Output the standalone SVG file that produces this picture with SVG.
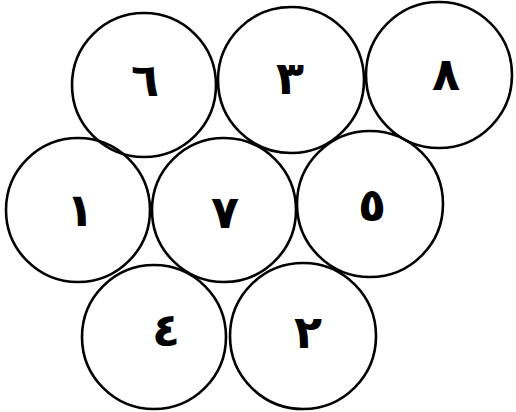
<svg xmlns="http://www.w3.org/2000/svg" width="516" height="412" viewBox="0 0 516 412">
<style>
.c{fill:none;stroke:#000;stroke-width:2.6}
.t{font-family:"DejaVu Sans","Noto Sans",sans-serif;font-size:46px;font-weight:bold;text-anchor:middle;dominant-baseline:central;fill:#000}
</style>
<rect width="516" height="412" fill="#fff"/>
<g id="n6"><circle class="c" cx="144" cy="85" r="72"/><text class="t" x="145" y="80">٦</text></g>
<g id="n3"><circle class="c" cx="291" cy="80" r="73"/><text class="t" x="290" y="78">٣</text></g>
<g id="n8"><circle class="c" cx="439" cy="75" r="73"/><text class="t" x="446" y="74">٨</text></g>
<g id="n1"><circle class="c" cx="78" cy="210" r="72"/><text class="t" x="80" y="210">١</text></g>
<g id="n7"><circle class="c" cx="224" cy="210" r="72"/><text class="t" x="225" y="212">٧</text></g>
<g id="n5"><circle class="c" cx="370" cy="204" r="73"/><text class="t" x="372" y="205">٥</text></g>
<g id="n4"><circle class="c" cx="154" cy="337" r="72"/><text class="t" x="166" y="330">٤</text></g>
<g id="n2"><circle class="c" cx="303" cy="336" r="73"/><text class="t" x="308" y="332">٢</text></g>
<g id="connectors"></g>
</svg>
